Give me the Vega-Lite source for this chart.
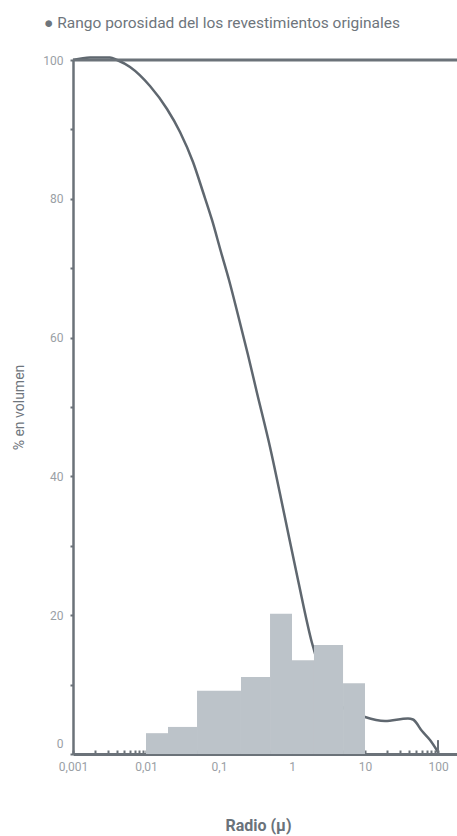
{
  "$schema": "https://vega.github.io/schema/vega-lite/v6.json",
  "width": 384,
  "height": 694,
  "autosize": {"type": "none"},
  "padding": {"left": 73, "top": 60, "right": 0, "bottom": 82},
  "background": "white",
  "config": {"view": {"stroke": null}, "font": "Roboto"},
  "title": {
    "text": "●    Rango porosidad del los revestimientos originales",
    "anchor": "start",
    "frame": "group",
    "dx": -29,
    "offset": 9,
    "baseline": "alphabetic",
    "font": "Roboto",
    "fontSize": 15.5,
    "fontWeight": "normal",
    "color": "#6e757c"
  },
  "datasets": {
    "curve": [
      {"r": 0.001, "v": 100},
      {"r": 0.00171, "v": 100.36},
      {"r": 0.00321, "v": 100.36},
      {"r": 0.00401, "v": 100.0},
      {"r": 0.00604, "v": 98.99},
      {"r": 0.01134, "v": 96.25},
      {"r": 0.0194, "v": 92.94},
      {"r": 0.02922, "v": 89.63},
      {"r": 0.04404, "v": 85.3},
      {"r": 0.06037, "v": 80.98},
      {"r": 0.08017, "v": 76.95},
      {"r": 0.1065, "v": 72.33},
      {"r": 0.1371, "v": 68.3},
      {"r": 0.1821, "v": 63.26},
      {"r": 0.2496, "v": 57.49},
      {"r": 0.3316, "v": 52.02},
      {"r": 0.4995, "v": 44.24},
      {"r": 0.777, "v": 34.73},
      {"r": 1.2083, "v": 25.07},
      {"r": 1.879, "v": 15.99},
      {"r": 4.545, "v": 7.06},
      {"r": 10, "v": 5.33},
      {"r": 18.79, "v": 4.76},
      {"r": 38.8, "v": 5.12},
      {"r": 45.45, "v": 4.97},
      {"r": 60.37, "v": 3.31},
      {"r": 77.7, "v": 2.02},
      {"r": 100, "v": 0.29}
    ],
    "bars": [
      {"r0": 0.01, "r1": 0.02, "pct": 3.0},
      {"r0": 0.02, "r1": 0.05, "pct": 3.9},
      {"r0": 0.05, "r1": 0.2, "pct": 9.1},
      {"r0": 0.2, "r1": 0.5, "pct": 11.1},
      {"r0": 0.5, "r1": 1, "pct": 20.2},
      {"r0": 1, "r1": 2, "pct": 13.5},
      {"r0": 2, "r1": 5, "pct": 15.7},
      {"r0": 5, "r1": 10, "pct": 10.2}
    ]
  },
  "layer": [
    {
      "data": {"name": "curve"},
      "mark": {"type": "line", "interpolate": "monotone", "color": "#5f676f", "strokeWidth": 2.5},
      "encoding": {
        "x": {
          "field": "r",
          "type": "quantitative",
          "scale": {"type": "log", "domain": [0.001, 182], "nice": false},
          "axis": {
            "title": "Radio (µ)",
            "titleFont": "Roboto",
            "titleFontSize": 16,
            "titleFontWeight": "bold",
            "titleColor": "#6a727a",
            "titlePadding": 45,
            "titleX": 185,
            "titleAlign": "center",
            "values": [0.001, 0.002, 0.003, 0.004, 0.005, 0.006, 0.007, 0.008, 0.009, 0.01, 0.02, 0.03, 0.04, 0.05, 0.06, 0.07, 0.08, 0.09, 0.1, 0.2, 0.3, 0.4, 0.5, 0.6, 0.7, 0.8, 0.9, 1, 2, 3, 4, 5, 6, 7, 8, 9, 10, 20, 30, 40, 50, 60, 70, 80, 90, 100],
            "labelExpr": "indexof(['0.001','0.01','0.1','1','10','100'], toString(datum.value)) >= 0 ? replace(toString(datum.value), '.', ',') : ''",
            "labelOverlap": false,
            "labelFlush": false,
            "labelFont": "Roboto",
            "labelFontSize": 12,
            "labelColor": "#9aa0a5",
            "labelPadding": 11,
            "tickSize": -4,
            "tickWidth": 2,
            "tickColor": "#6b7279",
            "domainColor": "#6b7279",
            "domainWidth": 3,
            "grid": false
          }
        },
        "y": {
          "field": "v",
          "type": "quantitative",
          "scale": {"domain": [0, 100], "nice": false},
          "axis": {
            "title": "% en volumen",
            "titleFont": "Roboto",
            "titleFontSize": 14,
            "titleFontWeight": "normal",
            "titleColor": "#6e757c",
            "titlePadding": 16,
            "values": [0, 10, 20, 30, 40, 50, 60, 70, 80, 90, 100],
            "labelExpr": "datum.value % 20 === 0 ? datum.label : ''",
            "labelFont": "Roboto",
            "labelFontSize": 12,
            "labelColor": "#9aa0a5",
            "labelPadding": 7,
            "labelOffset": {"condition": {"test": "datum.value === 0", "value": -11}, "value": 0},
            "tickSize": 3,
            "tickWidth": 2,
            "tickColor": "#6b7279",
            "domainColor": "#6b7279",
            "domainWidth": 2.5,
            "grid": false
          }
        }
      }
    },
    {
      "data": {"name": "bars"},
      "mark": {"type": "rect", "color": "#bcc3c9"},
      "encoding": {
        "x": {"field": "r0", "type": "quantitative"},
        "x2": {"field": "r1"},
        "y": {"field": "pct", "type": "quantitative"},
        "y2": {"datum": 0}
      }
    },
    {
      "data": {"values": [{}]},
      "mark": {"type": "rule", "color": "#6b7279", "strokeWidth": 3},
      "encoding": {"y": {"datum": 100}}
    },
    {
      "data": {"values": [{}]},
      "mark": {"type": "rule", "color": "#6b7279", "strokeWidth": 2},
      "encoding": {"x": {"datum": 100}, "y": {"datum": 0}, "y2": {"datum": 2}}
    }
  ]
}
